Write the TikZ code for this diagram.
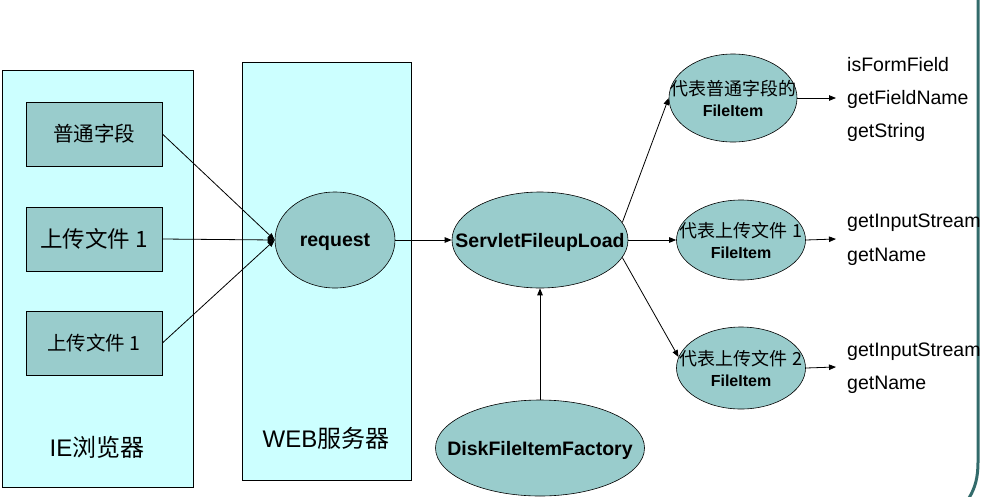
\documentclass[tikz,border=0pt]{standalone}
\usepackage{fontspec}
\setmainfont{Liberation Sans}
\newfontfamily\cjk{Noto Sans CJK SC}
\usetikzlibrary{shapes.geometric,arrows.meta}
\definecolor{lightcyan}{HTML}{CCFFFF}
\definecolor{tealfill}{HTML}{99CCCC}
\definecolor{framecol}{HTML}{336B6B}
\tikzset{
  panel/.style={draw=black, fill=lightcyan, line width=0.8pt},
  fieldbox/.style={draw=black, fill=tealfill, line width=0.8pt, minimum width=136pt, minimum height=64pt, inner sep=0pt},
  oval/.style={ellipse, draw=black, fill=tealfill, line width=0.6pt, inner sep=0pt},
  ovaltext/.style={align=center, inner sep=0pt, font=\bfseries\fontsize{19.5}{22}\selectfont},
  filetext/.style={align=center, inner sep=0pt, font=\fontsize{18}{24}\selectfont},
  method/.style={anchor=west, inner sep=0pt, font=\fontsize{19.5}{22}\selectfont},
  arr/.style={-{Triangle[length=7pt,width=5.5pt]}, line width=0.8pt},
}
\begin{document}
\begin{tikzpicture}[x=1pt,y=-1pt]
\useasboundingbox (0,0) rectangle (983,496);
% frame line at right
\draw[framecol, line width=3pt] (978,-2) -- (978,462) .. controls (978,478) and (975,488) .. (969,498);
% panels
\draw[panel] (2,70) rectangle (193,487);
\draw[panel] (242,62) rectangle (411,480);
\node[font=\fontsize{24}{26}\selectfont] (ielab) at (97,447) {IE{\cjk 浏览器}};
\node[font=\fontsize{24}{26}\selectfont] (weblab) at (326,438) {WEB{\cjk 服务器}};
% field boxes
\node[fieldbox, font=\cjk\fontsize{20.5}{22}\selectfont] (b1) at (94,134) {普通字段};
\node[fieldbox, font=\cjk\fontsize{22.5}{24}\selectfont] (b2) at (94,239) {上传文件 1};
\node[fieldbox, font=\cjk\fontsize{19.5}{22}\selectfont] (b3) at (94,343) {上传文件 1};
% ellipses
\node[oval, minimum width=120pt, minimum height=96pt] (req) at (335,240) {};
\node[ovaltext] (reqt) at ([yshift=-2pt]req.center) {request};
\node[oval, minimum width=176pt, minimum height=96pt] (srv) at (540,240) {};
\node[ovaltext] (srvt) at ([yshift=-2pt]srv.center) {ServletFileupLoad};
\node[oval, minimum width=209pt, minimum height=96pt] (disk) at (540,448) {};
\node[ovaltext] (diskt) at ([yshift=-2pt]disk.center) {DiskFileItemFactory};
\node[oval, minimum width=128pt, minimum height=88pt] (fi1) at (733,98) {};
\node[filetext] (fi1t) at (fi1.center) {{\cjk 代表普通字段的}\\[-3pt]{\bfseries\fontsize{16}{18}\selectfont FileItem}};
\node[oval, minimum width=129pt, minimum height=80pt] (fi2) at (741,240) {};
\node[filetext] (fi2t) at (fi2.center) {{\cjk 代表上传文件 1}\\[-3pt]{\bfseries\fontsize{16}{18}\selectfont FileItem}};
\node[oval, minimum width=129pt, minimum height=82pt] (fi3) at (741,368) {};
\node[filetext] (fi3t) at (fi3.center) {{\cjk 代表上传文件 2}\\[-3pt]{\bfseries\fontsize{16}{18}\selectfont FileItem}};
% method texts
\node[method] (m11) at (847,65) {isFormField};
\node[method] (m12) at (847,99) {getFieldName};
\node[method] (m13) at (847,132) {getString};
\node[method] (m21) at (847,223) {getInputStream};
\node[method] (m22) at (847,257) {getName};
\node[method] (m31) at (847,352) {getInputStream};
\node[method] (m32) at (847,385) {getName};
\coordinate (t1) at (836,98);
\coordinate (t2) at (836,239);
\coordinate (t3) at (836,367);
% connectors
\draw[arr] (b1.east) -- (req.west);
\draw[arr] (b2.east) -- (req.west);
\draw[arr] (b3.east) -- (req.west);
\draw[arr] (req.east) -- (srv.west);
\draw[arr] (disk.north) -- (srv.south);
\draw[arr] (srv.12) -- (fi1.west);
\draw[arr] (srv.east) -- (fi2.west);
\draw[arr] (srv.-12) -- (fi3.170);
\draw[arr] (fi1.east) -- (t1);
\draw[arr] (fi2.east) -- (t2);
\draw[arr] (fi3.east) -- (t3);
\end{tikzpicture}
\end{document}
